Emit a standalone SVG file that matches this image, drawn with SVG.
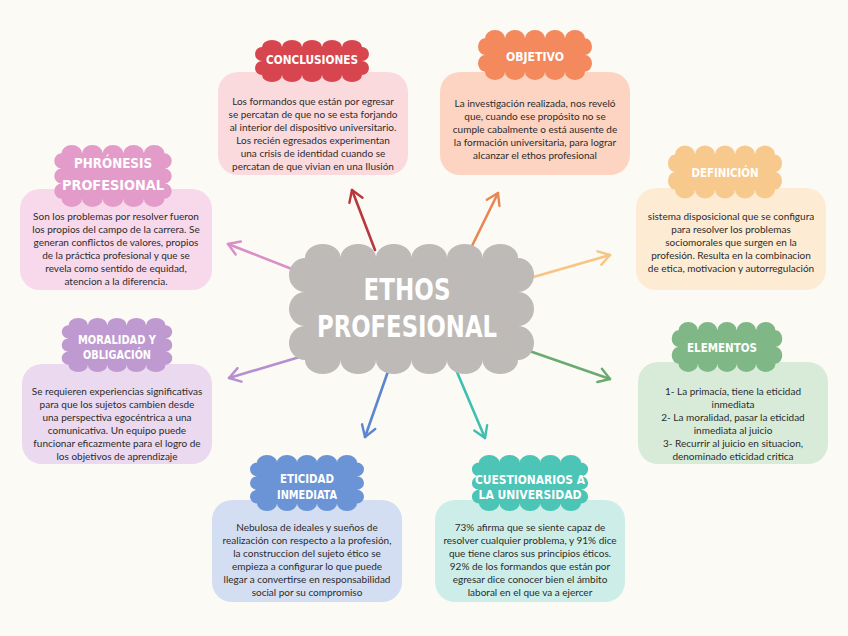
<svg xmlns="http://www.w3.org/2000/svg" xmlns:xlink="http://www.w3.org/1999/xlink" width="848" height="636" viewBox="0 0 848 636">
<style>
.body{font-family:Lato,"Open Sans","DejaVu Sans",sans-serif;font-size:10px;fill:#2b2b2b;text-anchor:middle}
.head{font-family:"DejaVu Sans Condensed","DejaVu Sans",sans-serif;font-weight:bold;font-size:13px;fill:#ffffff;text-anchor:middle;font-stretch:condensed}
.center{font-family:"DejaVu Sans Condensed","DejaVu Sans",sans-serif;font-weight:bold;font-size:31px;fill:#ffffff;text-anchor:middle}
.arr{fill:none;stroke-width:2.6;stroke-linecap:round}
.mk{fill:none;stroke-width:2.4;stroke-linecap:round;stroke-linejoin:round}
</style>
<defs>
<path id="cloud1" d="M-50,-16 a10,8 0 0 1 20,0 a10,8 0 0 1 20,0 a10,8 0 0 1 20,0 a10,8 0 0 1 20,0 a10,8 0 0 1 20,0 a7,8 0 0 1 0,16 a7,8 0 0 1 0,16 a10,8 0 0 1 -20,0 a10,8 0 0 1 -20,0 a10,8 0 0 1 -20,0 a10,8 0 0 1 -20,0 a10,8 0 0 1 -20,0 a7,8 0 0 1 0,-16 a7,8 0 0 1 0,-16 Z"/>
<path id="cloud2" d="M-50,-22 a10,8 0 0 1 20,0 a10,8 0 0 1 20,0 a10,8 0 0 1 20,0 a10,8 0 0 1 20,0 a10,8 0 0 1 20,0 a7,7.333 0 0 1 0,14.667 a7,7.333 0 0 1 0,14.667 a7,7.333 0 0 1 0,14.667 a10,8 0 0 1 -20,0 a10,8 0 0 1 -20,0 a10,8 0 0 1 -20,0 a10,8 0 0 1 -20,0 a10,8 0 0 1 -20,0 a7,7.333 0 0 1 0,-14.667 a7,7.333 0 0 1 0,-14.667 a7,7.333 0 0 1 0,-14.667 Z"/>
<marker id="mRed" viewBox="-14 -10 17 20" markerWidth="17" markerHeight="20" refX="0" refY="0" orient="auto" markerUnits="userSpaceOnUse"><path class="mk" stroke="#b8383d" d="M-11,-7 L0,0 L-11,7"/></marker>
<marker id="mOrange" viewBox="-14 -10 17 20" markerWidth="17" markerHeight="20" refX="0" refY="0" orient="auto" markerUnits="userSpaceOnUse"><path class="mk" stroke="#ea8653" d="M-11,-7 L0,0 L-11,7"/></marker>
<marker id="mYellow" viewBox="-14 -10 17 20" markerWidth="17" markerHeight="20" refX="0" refY="0" orient="auto" markerUnits="userSpaceOnUse"><path class="mk" stroke="#f8c484" d="M-11,-7 L0,0 L-11,7"/></marker>
<marker id="mPink" viewBox="-14 -10 17 20" markerWidth="17" markerHeight="20" refX="0" refY="0" orient="auto" markerUnits="userSpaceOnUse"><path class="mk" stroke="#da8fc6" d="M-11,-7 L0,0 L-11,7"/></marker>
<marker id="mPurple" viewBox="-14 -10 17 20" markerWidth="17" markerHeight="20" refX="0" refY="0" orient="auto" markerUnits="userSpaceOnUse"><path class="mk" stroke="#b78fd0" d="M-11,-7 L0,0 L-11,7"/></marker>
<marker id="mBlue" viewBox="-14 -10 17 20" markerWidth="17" markerHeight="20" refX="0" refY="0" orient="auto" markerUnits="userSpaceOnUse"><path class="mk" stroke="#5a87cf" d="M-11,-7 L0,0 L-11,7"/></marker>
<marker id="mTeal" viewBox="-14 -10 17 20" markerWidth="17" markerHeight="20" refX="0" refY="0" orient="auto" markerUnits="userSpaceOnUse"><path class="mk" stroke="#3fbfb2" d="M-11,-7 L0,0 L-11,7"/></marker>
<marker id="mGreen" viewBox="-14 -10 17 20" markerWidth="17" markerHeight="20" refX="0" refY="0" orient="auto" markerUnits="userSpaceOnUse"><path class="mk" stroke="#6aab70" d="M-11,-7 L0,0 L-11,7"/></marker>
</defs>
<rect x="0" y="0" width="848" height="636" fill="#fbfaf5"/>

<g id="connectors">
<line class="arr" stroke="#b8383d" x1="375" y1="250" x2="352" y2="190" marker-end="url(#mRed)"/>
<line class="arr" stroke="#ea8653" x1="469" y1="252" x2="498" y2="193" marker-end="url(#mOrange)"/>
<line class="arr" stroke="#f8c484" x1="530" y1="278" x2="610" y2="255" marker-end="url(#mYellow)"/>
<line class="arr" stroke="#da8fc6" x1="302" y1="273" x2="228" y2="244" marker-end="url(#mPink)"/>
<line class="arr" stroke="#b78fd0" x1="313" y1="353" x2="229" y2="378" marker-end="url(#mPurple)"/>
<line class="arr" stroke="#5a87cf" x1="392" y1="360" x2="365" y2="437" marker-end="url(#mBlue)"/>
<line class="arr" stroke="#3fbfb2" x1="457" y1="372" x2="485" y2="438" marker-end="url(#mTeal)"/>
<line class="arr" stroke="#6aab70" x1="515" y1="346" x2="610" y2="379" marker-end="url(#mGreen)"/>
</g>

<g id="ethos">
<path fill="#bdbab7" d="M305,258 a17.75,14 0 0 1 35.5,0 a17.75,14 0 0 1 35.5,0 a17.75,14 0 0 1 35.5,0 a17.75,14 0 0 1 35.5,0 a17.75,14 0 0 1 35.5,0 a17.75,14 0 0 1 35.5,0 a16,17 0 0 1 0,34 a16,17 0 0 1 0,34 a16,17 0 0 1 0,34 a17.75,14 0 0 1 -35.5,0 a17.75,14 0 0 1 -35.5,0 a17.75,14 0 0 1 -35.5,0 a17.75,14 0 0 1 -35.5,0 a17.75,14 0 0 1 -35.5,0 a17.75,14 0 0 1 -35.5,0 a16,17 0 0 1 0,-34 a16,17 0 0 1 0,-34 a16,17 0 0 1 0,-34 Z"/>
<text class="center" x="407" y="300" textLength="87" lengthAdjust="spacingAndGlyphs">ETHOS</text>
<text class="center" x="407" y="337" textLength="180" lengthAdjust="spacingAndGlyphs">PROFESIONAL</text>
</g>

<g id="conclusiones">
<rect x="218" y="72" width="190" height="103" rx="20" fill="#fbdadd"/>
<use xlink:href="#cloud1" href="#cloud1" fill="#d7464e" transform="translate(312,61) scale(1,0.875)"/>
<text class="head" x="312" y="64" textLength="92" lengthAdjust="spacingAndGlyphs">CONCLUSIONES</text>
<text class="body" x="313" y="104.5">Los formandos que están por egresar</text>
<text class="body" x="313" y="117.5">se percatan de que no se esta forjando</text>
<text class="body" x="313" y="130.5">al interior del dispositivo universitario.</text>
<text class="body" x="313" y="143.5">Los recién egresados experimentan</text>
<text class="body" x="313" y="156.5">una crisis de identidad cuando se</text>
<text class="body" x="313" y="169.5">percatan de que vivian en una Ilusión</text>
</g>

<g id="objetivo">
<rect x="440" y="72" width="190" height="103" rx="20" fill="#fdd4c2"/>
<use xlink:href="#cloud1" href="#cloud1" fill="#f3895c" transform="translate(535,55) scale(1,1.04)"/>
<text class="head" x="535" y="61" textLength="58" lengthAdjust="spacingAndGlyphs">OBJETIVO</text>
<text class="body" x="535" y="106.5">La investigación realizada, nos reveló</text>
<text class="body" x="535" y="119.5">que, cuando ese propósito no se</text>
<text class="body" x="535" y="132.5">cumple cabalmente o está ausente de</text>
<text class="body" x="535" y="145.5">la formación universitaria, para lograr</text>
<text class="body" x="535" y="158.5">alcanzar el ethos profesional</text>
</g>

<g id="phronesis">
<rect x="20" y="189" width="192" height="101" rx="20" fill="#f7d9eb"/>
<use xlink:href="#cloud2" href="#cloud2" fill="#e39bc9" transform="translate(113,176) scale(1.03,1.03)"/>
<text class="head" x="113" y="168" style="font-size:14px" textLength="78" lengthAdjust="spacingAndGlyphs">PHRÓNESIS</text>
<text class="head" x="113" y="190" style="font-size:14px" textLength="102" lengthAdjust="spacingAndGlyphs">PROFESIONAL</text>
<text class="body" x="116" y="219.5">Son los problemas por resolver fueron</text>
<text class="body" x="116" y="232.5">los propios del campo de la carrera. Se</text>
<text class="body" x="116" y="245.5">generan conflictos de valores, propios</text>
<text class="body" x="116" y="258.5">de la práctica profesional y que se</text>
<text class="body" x="116" y="271.5">revela como sentido de equidad,</text>
<text class="body" x="116" y="284.5">atencion a la diferencia.</text>
</g>

<g id="definicion">
<rect x="636" y="188" width="190" height="102" rx="20" fill="#fdebd3"/>
<use xlink:href="#cloud1" href="#cloud1" fill="#f8c98c" transform="translate(725,172) scale(1,1.1)"/>
<text class="head" x="725" y="177" textLength="67" lengthAdjust="spacingAndGlyphs">DEFINICIÓN</text>
<text class="body" x="731" y="219.5">sistema disposicional que se configura</text>
<text class="body" x="731" y="232.5">para resolver los problemas</text>
<text class="body" x="731" y="245.5">sociomorales que surgen en la</text>
<text class="body" x="731" y="258.5">profesión. Resulta en la combinacion</text>
<text class="body" x="731" y="271.5">de etica, motivacion y autorregulación</text>
</g>

<g id="moralidad">
<rect x="22" y="364" width="190" height="100" rx="20" fill="#ead9ef"/>
<use xlink:href="#cloud2" href="#cloud2" fill="#bf9ad0" transform="translate(117,345) scale(0.97,0.9)"/>
<text class="head" x="117" y="344" textLength="78" lengthAdjust="spacingAndGlyphs">MORALIDAD Y</text>
<text class="head" x="117" y="359" textLength="68" lengthAdjust="spacingAndGlyphs">OBLIGACIÓN</text>
<text class="body" x="117" y="394.5">Se requieren experiencias significativas</text>
<text class="body" x="117" y="407.5">para que los sujetos cambien desde</text>
<text class="body" x="117" y="420.5">una perspectiva egocéntrica a una</text>
<text class="body" x="117" y="433.5">comunicativa. Un equipo puede</text>
<text class="body" x="117" y="446.5">funcionar eficazmente para el logro de</text>
<text class="body" x="117" y="459.5">los objetivos de aprendizaje</text>
</g>

<g id="elementos">
<rect x="638" y="362" width="190" height="102" rx="20" fill="#d8ebd9"/>
<use xlink:href="#cloud1" href="#cloud1" fill="#7fb886" transform="translate(727,347) scale(0.97,1.04)"/>
<text class="head" x="722" y="352" textLength="70" lengthAdjust="spacingAndGlyphs">ELEMENTOS</text>
<text class="body" x="733" y="394.5">1- La primacía, tiene la eticidad</text>
<text class="body" x="733" y="407.5">inmediata</text>
<text class="body" x="733" y="420.5">2- La moralidad, pasar la eticidad</text>
<text class="body" x="733" y="433.5">inmediata al juicio</text>
<text class="body" x="733" y="446.5">3- Recurrir al juicio en situacion,</text>
<text class="body" x="733" y="459.5">denominado eticidad critica</text>
</g>

<g id="eticidad">
<rect x="212" y="500" width="190" height="102" rx="20" fill="#d3def2"/>
<use xlink:href="#cloud2" href="#cloud2" fill="#6b94d6" transform="translate(307,483) scale(1,0.93)"/>
<text class="head" x="307" y="483" textLength="54" lengthAdjust="spacingAndGlyphs">ETICIDAD</text>
<text class="head" x="307" y="499" textLength="60" lengthAdjust="spacingAndGlyphs">INMEDIATA</text>
<text class="body" x="307" y="530.5">Nebulosa de ideales y sueños de</text>
<text class="body" x="307" y="543.5">realización con respecto a la profesión,</text>
<text class="body" x="307" y="556.5">la construccion del sujeto ético se</text>
<text class="body" x="307" y="569.5">empieza a configurar lo que puede</text>
<text class="body" x="307" y="582.5">llegar a convertirse en responsabilidad</text>
<text class="body" x="307" y="595.5">social por su compromiso</text>
</g>

<g id="cuestionarios">
<rect x="435" y="500" width="190" height="102" rx="20" fill="#cdeee8"/>
<use xlink:href="#cloud2" href="#cloud2" fill="#4cc4b6" transform="translate(530,483) scale(1.02,0.93)"/>
<text class="head" x="530" y="484" textLength="110" lengthAdjust="spacingAndGlyphs">CUESTIONARIOS A</text>
<text class="head" x="530" y="499" textLength="103" lengthAdjust="spacingAndGlyphs">LA UNIVERSIDAD</text>
<text class="body" x="530" y="530.5">73% afirma que se siente capaz de</text>
<text class="body" x="530" y="543.5">resolver cualquier problema, y 91% dice</text>
<text class="body" x="530" y="556.5">que tiene claros sus principios éticos.</text>
<text class="body" x="530" y="569.5">92% de los formandos que están por</text>
<text class="body" x="530" y="582.5">egresar dice conocer bien el ámbito</text>
<text class="body" x="530" y="595.5">laboral en el que va a ejercer</text>
</g>
</svg>
